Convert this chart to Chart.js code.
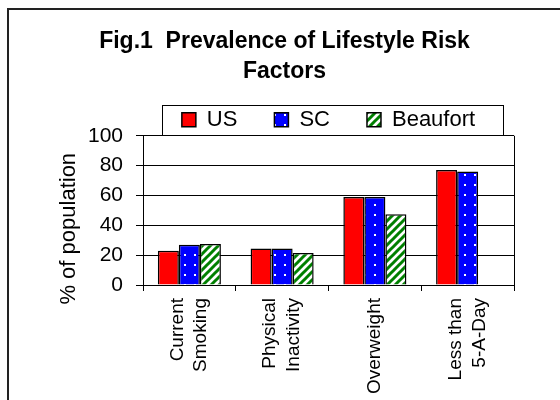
<!DOCTYPE html>
<html>
<head>
<meta charset="utf-8">
<script src="https://cdn.jsdelivr.net/npm/chart.js@4.4.1/dist/chart.umd.min.js"></script>
<style>
  body { margin: 0; background: #fff; }
  canvas { display: block; }
</style>
</head>
<body>
<canvas id="riskChart" width="560" height="400"></canvas>
<script>
// categories and values
var categories = [['Current', 'Smoking'], ['Physical', 'Inactivity'], ['', 'Overweight'], ['Less than', '5-A-Day']];
var usValues = [23, 24.5, 59, 77];
var scValues = [27, 24.5, 59, 76];
var beaufortValues = [27.5, 21.5, 47.5, null];
var yTicks = [0, 20, 40, 60, 80, 100];
var titleLines = ['Fig.1  Prevalence of Lifestyle Risk', 'Factors'];

var family = '"Liberation Sans", Arial, sans-serif';
Chart.defaults.font.family = family;
Chart.defaults.color = '#000';

var labelLine = 23.75; // spacing of the two label lines

// blue with white dots (SC)
function dotPattern() {
  var c = document.createElement('canvas');
  c.width = 10; c.height = 10;
  var g = c.getContext('2d');
  g.fillStyle = '#0000ff';
  g.fillRect(0, 0, 10, 10);
  g.fillStyle = '#ffffff';
  g.fillRect(4, 4, 2, 2);
  return g.createPattern(c, 'repeat');
}

// green diagonal stripes on white (Beaufort)
function stripePattern() {
  var c = document.createElement('canvas');
  c.width = 8; c.height = 8;
  var g = c.getContext('2d');
  g.fillStyle = '#ffffff';
  g.fillRect(0, 0, 8, 8);
  g.strokeStyle = '#008000';
  g.lineWidth = 3;
  g.beginPath();
  g.moveTo(-2, 10); g.lineTo(10, -2);
  g.moveTo(-6, 6); g.lineTo(6, -6);
  g.moveTo(2, 14); g.lineTo(14, 2);
  g.stroke();
  return g.createPattern(c, 'repeat');
}

// frame lines, plot area right edge, legend box
var decorations = {
  id: 'decorations',
  afterDraw: function (chart) {
    var ctx = chart.ctx;
    var a = chart.chartArea;
    ctx.save();
    ctx.strokeStyle = '#000';
    ctx.lineWidth = 1;
    ctx.beginPath();
    ctx.moveTo(Math.round(a.right) + 0.5, a.top);
    ctx.lineTo(Math.round(a.right) + 0.5, a.bottom);
    ctx.stroke();

    var boxes = chart.legend.legendHitBoxes;
    if (boxes && boxes.length) {
      var cy = boxes[0].top + boxes[0].height / 2;
      var left = Math.round(a.left + 19) + 0.5;
      var right = Math.round(a.right - 11) + 0.5;
      ctx.strokeRect(left, Math.round(cy - 15) + 0.5, right - left, 30);
    }

    ctx.lineWidth = 2;
    ctx.strokeStyle = '#222';
    ctx.beginPath();
    ctx.moveTo(8, 400);
    ctx.lineTo(8, 9);
    ctx.lineTo(560, 9);
    ctx.stroke();
    ctx.restore();
  }
};

var ctx = document.getElementById('riskChart').getContext('2d');
var chart = new Chart(ctx, {
  type: 'bar',
  data: {
    labels: categories,
    datasets: [{
      label: 'US',
      data: usValues,
      backgroundColor: '#ff0000',
      borderColor: '#000',
      borderWidth: 1.5
    }, {
      label: 'SC',
      data: scValues,
      backgroundColor: dotPattern(),
      borderColor: '#000',
      borderWidth: 1.5
    }, {
      label: 'Beaufort',
      data: beaufortValues,
      backgroundColor: stripePattern(),
      borderColor: '#000',
      borderWidth: 1.5
    }]
  },
  options: {
    responsive: false,
    animation: false,
    datasets: {
      bar: { categoryPercentage: 0.68, barPercentage: 1.0 }
    },
    layout: { padding: { left: 55, right: 46, top: 0, bottom: 0 } },
    plugins: {
      title: {
        display: true,
        text: titleLines,
        color: '#000',
        font: { size: 23, weight: 'bold', lineHeight: 1.3 },
        padding: { top: 27, bottom: -15 }
      },
      legend: {
        fullSize: false,
        maxHeight: 64,
        labels: {
          color: '#000',
          font: { size: 22 },
          boxWidth: 14,
          boxHeight: 14,
          padding: 37
        }
      },
      tooltip: { enabled: false }
    },
    scales: {
      x: {
        grid: { display: true, drawOnChartArea: false, color: '#000', tickLength: 6, offset: true },
        border: { color: '#000', width: 1 },
        ticks: {
          color: '#000',
          autoSkip: false,
          minRotation: 90,
          maxRotation: 90,
          padding: 7,
          labelOffset: -labelLine / 2,
          font: function (c) {
            // single-word label: half spacing so the word sits on the tick
            var single = categories[c.index] && categories[c.index][0] === '';
            return { family: family, size: 19, lineHeight: (single ? labelLine / 2 : labelLine) + 'px' };
          }
        },
        afterFit: function (scale) { scale.height = 115; }
      },
      y: {
        min: 0,
        max: 100,
        afterBuildTicks: function (scale) {
          scale.ticks = yTicks.map(function (v) { return { value: v }; });
        },
        ticks: { color: '#000', font: { size: 21 }, padding: 13 },
        grid: { color: '#000', lineWidth: 1, tickLength: 7 },
        border: { color: '#000', width: 1 },
        title: {
          display: true,
          text: '% of population      ',
          color: '#000',
          font: { size: 22 },
          padding: { top: 1, bottom: 0 }
        },
        afterFit: function (scale) { scale.width = 88; }
      }
    }
  },
  plugins: [decorations]
});
</script>
</body>
</html>
